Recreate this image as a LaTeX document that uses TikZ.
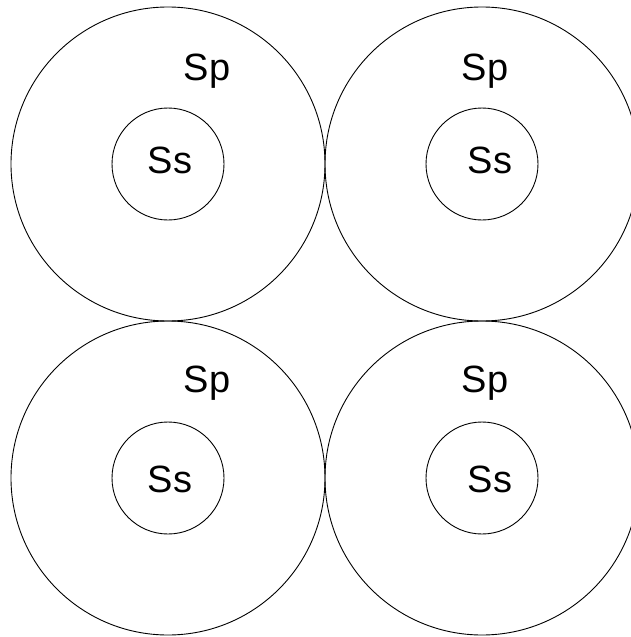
\documentclass[tikz,border=0pt]{standalone}
\usepackage{fontspec}
\setmainfont{Liberation Sans}
\begin{document}
\begin{tikzpicture}[x=1pt,y=-1pt,
  outer/.style={circle,draw=black,line width=0.9pt,minimum size=314pt,inner sep=0pt},
  inner/.style={circle,draw=black,line width=0.9pt,minimum size=112pt,inner sep=0pt},
  lbl/.style={font=\fontsize{38}{38}\selectfont,anchor=base,inner sep=0pt}]
  \useasboundingbox (0,0) rectangle (631,637);
  \clip (0,0) rectangle (631,637);
  \fill[white] (0,0) rectangle (631,637);
  % four cells: an outer region with a smaller concentric core
  \node[outer] (p1) at (168,164) {};
  \node[outer] (p2) at (482,164) {};
  \node[outer] (p3) at (168,478) {};
  \node[outer] (p4) at (482,478) {};
  \node[inner] (s1) at (168,164) {};
  \node[inner] (s2) at (482,164) {};
  \node[inner] (s3) at (168,478) {};
  \node[inner] (s4) at (482,478) {};
  % labels
  \node[lbl] (tp1) at (207,80) {Sp};
  \node[lbl] (tp2) at (485,80) {Sp};
  \node[lbl] (tp3) at (207,392) {Sp};
  \node[lbl] (tp4) at (485,392) {Sp};
  \node[lbl] (ts1) at (170,173) {Ss};
  \node[lbl] (ts2) at (490,173) {Ss};
  \node[lbl] (ts3) at (170,492) {Ss};
  \node[lbl] (ts4) at (490,492) {Ss};
\end{tikzpicture}
\end{document}
